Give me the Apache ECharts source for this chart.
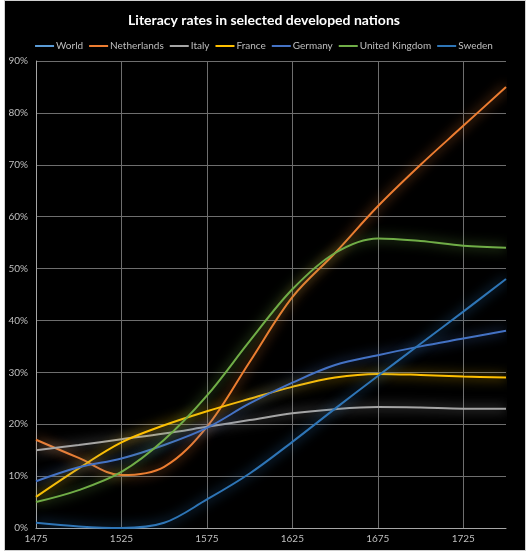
<!DOCTYPE html>
<html>
<head>
<meta charset="utf-8">
<script src="https://cdn.jsdelivr.net/npm/echarts@6/dist/echarts.min.js"></script>
<style>
html,body{margin:0;padding:0;background:#fff;width:528px;height:553px;overflow:hidden;}
#frame{position:absolute;left:4px;top:0;width:522px;height:551px;box-sizing:border-box;border:1px solid #d0d0d0;background:#000;}
#chart{position:absolute;left:0;top:0;width:528px;height:553px;}
</style>
</head>
<body>
<div id="frame"></div>
<div id="chart"></div>
<script>
const years = [1475, 1500, 1525, 1550, 1575, 1600, 1625, 1650, 1675, 1700, 1725, 1750];
const seriesNames = ['World', 'Netherlands', 'Italy', 'France', 'Germany', 'United Kingdom', 'Sweden'];
const world = [];
const netherlands = [17, 13.5, 10.2, 11.8, 19.5, 32, 44.5, 53, 62, 70, 77.5, 85];
const italy = [15, 16, 17.1, 18.2, 19.5, 20.8, 22.1, 22.9, 23.3, 23.2, 23, 23];
const france = [6, 11.5, 16.5, 19.8, 22.5, 24.9, 27.2, 29, 29.7, 29.5, 29.2, 29];
const germany = [9, 11.7, 13.4, 16, 19.3, 24, 28, 31.4, 33.3, 35, 36.5, 38];
const unitedKingdom = [5, 7.3, 10.8, 17, 25.5, 36, 46, 53, 55.8, 55.3, 54.4, 54];
const sweden = [1, 0.3, 0, 1, 5.5, 10.5, 16.6, 23, 29.3, 35.5, 41.7, 48];
const colors = ['#5B9BD5', '#ED7D31', '#A5A5A5', '#FFC000', '#4472C4', '#70AD47', '#2E75B6'];
const values = [world, netherlands, italy, france, germany, unitedKingdom, sweden];

const chart = echarts.init(document.getElementById('chart'), null, {renderer: 'canvas'});
const series = seriesNames.map((name, i) => ({
  name: name,
  type: 'line',
  smooth: 0.35,
  showSymbol: false,
  symbol: 'none',
  data: values[i].map((v, j) => [years[j], v]),
  lineStyle: {width: 2, color: colors[i], shadowBlur: 12, shadowColor: colors[i]},
  itemStyle: {color: colors[i]},
  emphasis: {disabled: true}
}));

chart.setOption({
  animation: false,
  backgroundColor: 'transparent',
  color: colors,
  title: {
    text: 'Literacy rates in selected developed nations',
    left: 'center',
    top: 8,
    textStyle: {color: '#ffffff', fontFamily: 'Lato', fontWeight: 'bold', fontSize: 14}
  },
  legend: {
    top: 36,
    left: 'center',
    icon: 'rect',
    itemWidth: 19,
    itemHeight: 2,
    itemGap: 6,
    textStyle: {color: '#bfbfbf', fontFamily: 'Lato', fontSize: 10, padding: [0, 0, 0, -3]},
    data: seriesNames
  },
  grid: {left: 36, right: 22, top: 61, bottom: 25, containLabel: false},
  xAxis: {
    type: 'value',
    min: 1475,
    max: 1750,
    interval: 50,
    axisLine: {show: true, lineStyle: {color: '#a6a6a6', width: 1}},
    axisTick: {show: false},
    axisLabel: {color: '#bfbfbf', fontFamily: 'Lato', fontSize: 10, margin: 6, showMaxLabel: false, formatter: v => String(v)},
    splitLine: {show: true, showMinLine: false, showMaxLine: false, lineStyle: {color: '#6e6e6e', width: 1}}
  },
  yAxis: {
    type: 'value',
    min: 0,
    max: 90,
    interval: 10,
    axisLine: {show: true, lineStyle: {color: '#a6a6a6', width: 1}},
    axisTick: {show: false},
    axisLabel: {color: '#bfbfbf', fontFamily: 'Lato', fontSize: 10, margin: 8, formatter: '{value}%'},
    splitLine: {show: true, showMinLine: false, lineStyle: {color: '#6e6e6e', width: 1}}
  },
  series: series
});
</script>
</body>
</html>
